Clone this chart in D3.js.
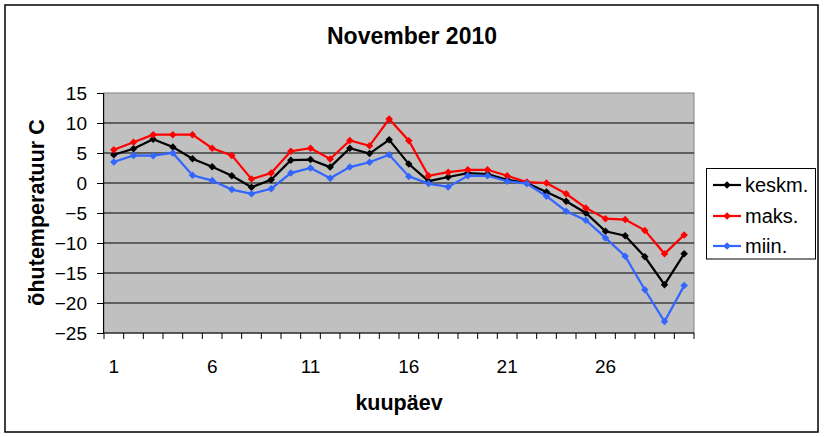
<!DOCTYPE html>
<html><head><meta charset="utf-8">
<script src="https://cdn.jsdelivr.net/npm/d3@7"></script>
<style>
body{margin:0;background:#fff;}
text{font-family:Arial,"Liberation Sans",sans-serif;}
</style></head>
<body><svg id="c" width="825" height="437"></svg>
<script>
const days = d3.range(1, 31);
const keskm = [4.7,5.7,7.3,6.0,4.05,2.7,1.2,-0.7,0.55,3.8,3.9,2.65,5.8,4.9,7.2,3.15,0.3,1.0,1.65,1.5,0.55,0.0,-1.5,-3.05,-5.0,-8.05,-8.8,-12.3,-16.95,-11.8];
const maks = [5.55,6.8,8.05,8.05,8.05,5.8,4.6,0.65,1.65,5.3,5.8,4.0,7.1,6.2,10.65,7.05,1.2,1.8,2.2,2.2,1.2,0.15,0.0,-1.8,-4.15,-5.95,-6.1,-7.9,-11.8,-8.65];
const miin = [3.5,4.6,4.55,5.0,1.3,0.4,-1.1,-1.8,-0.95,1.65,2.5,0.8,2.65,3.45,4.7,1.1,-0.1,-0.65,1.2,1.2,0.3,-0.1,-2.2,-4.7,-6.2,-9.15,-12.2,-17.8,-23.1,-17.1];
const yTicks = [15,10,5,0,-5,-10,-15,-20,-25];
const xTickLabels = [1,6,11,16,21,26];
const seriesNames = ["keskm.","maks.","miin."];
const seriesColors = ["#000000","#FF0000","#3366FF"];
const series = [keskm, maks, miin];

const svg = d3.select("#c");
// outer border
svg.append("rect").attr("x",5).attr("y",5).attr("width",813).attr("height",427)
  .attr("fill","#fff").attr("stroke","#000").attr("stroke-width",1.5);

const L=104, R=694, T=93, B=333;
const x = d3.scaleBand().domain(days).range([L,R]);
const cx = d => x(d) + x.bandwidth()/2;
const y = d3.scaleLinear().domain([-25,15]).range([B,T]);

// plot area
svg.append("rect").attr("x",L).attr("y",T).attr("width",R-L).attr("height",B-T)
  .attr("fill","#C0C0C0").attr("stroke","#808080").attr("stroke-width",1);

// gridlines
svg.append("g").selectAll("line").data(yTicks.filter(v=>v!==15 && v!==-25)).join("line")
  .attr("x1",L).attr("x2",R).attr("y1",d=>y(d)).attr("y2",d=>y(d))
  .attr("stroke","#000").attr("stroke-width",1);

// y axis
const yAxis = d3.axisLeft(y).tickValues(yTicks).tickSize(7).tickPadding(10).tickFormat(d3.format("d"));
const gy = svg.append("g").attr("transform",`translate(${L},0)`).call(yAxis);
gy.select(".domain").attr("stroke","#000").attr("d",`M-0.5,${T}V${B}`);
gy.selectAll(".tick line").attr("stroke","#000");
gy.selectAll(".tick text").attr("font-size",19).attr("fill","#000").style("font-family","Arial, 'Liberation Sans', sans-serif");

// x axis
const gx = svg.append("g").attr("transform",`translate(0,${B})`);
gx.append("line").attr("x1",L).attr("x2",R).attr("y1",0).attr("y2",0).attr("stroke","#000");
const bounds = days.map(d=>x(d)).concat([R]);
gx.selectAll("line.tk").data(bounds).join("line").attr("class","tk")
  .attr("x1",d=>d).attr("x2",d=>d).attr("y1",0).attr("y2",6).attr("stroke","#000");
gx.selectAll("text").data(xTickLabels).join("text")
  .attr("x",d=>cx(d)).attr("y",40).attr("text-anchor","middle")
  .attr("font-size",19).text(d=>d);

// lines
const line = d3.line().x((v,i)=>cx(days[i])).y(v=>y(v));
const diamond = d3.symbol().type(d3.symbolDiamond2).size(36);
series.forEach((s,k)=>{
  svg.append("path").attr("d",line(s)).attr("fill","none")
    .attr("stroke",seriesColors[k]).attr("stroke-width",2.2);
  svg.append("g").selectAll("path").data(s).join("path")
    .attr("transform",(v,i)=>`translate(${cx(days[i])},${y(v)})`)
    .attr("d",diamond).attr("fill",seriesColors[k]);
});

// titles
svg.append("text").attr("x",412).attr("y",44).attr("text-anchor","middle")
  .attr("font-size",23).attr("font-weight","bold").text("November 2010");
svg.append("text").attr("x",(L+R)/2).attr("y",410).attr("text-anchor","middle")
  .attr("font-size",21.5).attr("font-weight","bold").text("kuupäev");
svg.append("text").attr("transform",`translate(44,212.5) rotate(-90)`).attr("text-anchor","middle")
  .attr("font-size",21.5).attr("font-weight","bold").text("õhutemperatuur C");

// legend
const lg = svg.append("g");
lg.append("rect").attr("x",706.5).attr("y",168.5).attr("width",109).attr("height",90.5)
  .attr("fill","#fff").attr("stroke","#000").attr("stroke-width",1);
const rowsY = [185,216,246];
seriesNames.forEach((n,k)=>{
  lg.append("line").attr("x1",713).attr("x2",741).attr("y1",rowsY[k]).attr("y2",rowsY[k])
    .attr("stroke",seriesColors[k]).attr("stroke-width",2.2);
  lg.append("path").attr("transform",`translate(727,${rowsY[k]})`).attr("d",diamond).attr("fill",seriesColors[k]);
  lg.append("text").attr("x",745).attr("y",rowsY[k]+7).attr("font-size",20).text(n);
});
</script></body></html>
